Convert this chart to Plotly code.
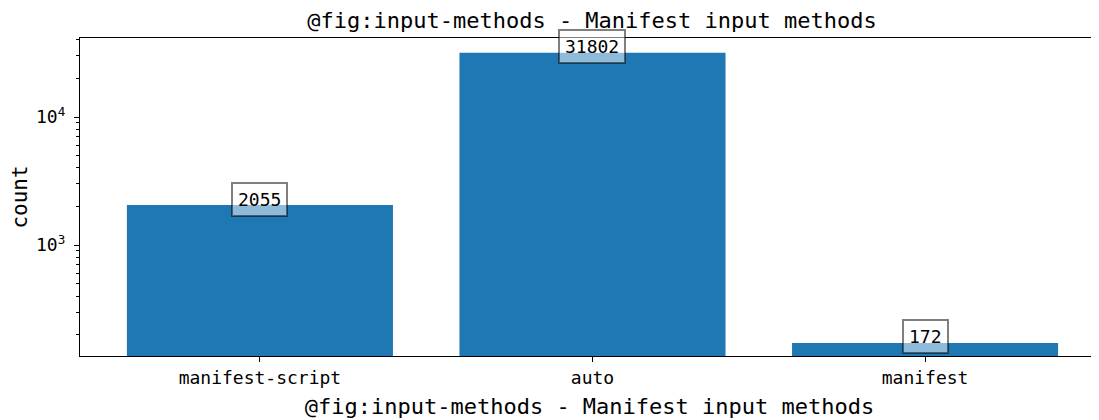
import plotly.graph_objects as go
import numpy as np

categories = ["manifest-script", "auto", "manifest"]
counts = [2055, 31802, 172]
title_text = "@fig:input-methods - Manifest input methods"

FONT = "DejaVu Sans Mono"
BLUE = "#1f77b4"
OFF = 8  # page body margin

W, H = 1099 - OFF, 420 - OFF

fig = go.Figure()
fig.add_trace(go.Bar(x=categories, y=counts, marker=dict(color=BLUE, line=dict(width=0)),
                     width=0.8, showlegend=False, hoverinfo="skip"))

for c, v in zip(categories, counts):
    fig.add_annotation(x=c, y=np.log10(v), text=str(v), showarrow=False,
                       yshift=6, font=dict(family=FONT, size=18, color="black"),
                       bgcolor="rgba(255,255,255,0.5)", bordercolor="rgba(0,0,0,0.5)",
                       borderwidth=2, borderpad=5)

minor_vals = [m * 10 ** e for e in (2, 3, 4) for m in range(2, 10) if 130 < m * 10 ** e < 50000]

fig.update_layout(
    width=W, height=H,
    margin=dict(l=80 - OFF, r=0, t=38 - OFF, b=64),
    paper_bgcolor="white", plot_bgcolor="white",
    font=dict(family=FONT, color="black"),
    title=dict(text=title_text, x=(592 - 80) / 1019, xref="paper",
               y=1 - (20 - OFF) / H, yref="container", yanchor="middle",
               xanchor="center", font=dict(family=FONT, size=22)),
    bargap=0.2,
)

fig.update_xaxes(
    range=[-0.541, 2.523], showline=True, linecolor="black", linewidth=1.2, mirror=True,
    ticks="outside", ticklen=5, tickcolor="black", showgrid=False,
    tickfont=dict(family=FONT, size=18),
    title=dict(text=title_text, font=dict(family=FONT, size=22), standoff=11),
)
fig.update_yaxes(
    type="log", range=[np.log10(136), np.log10(41400)],
    showline=True, linecolor="black", linewidth=1.2, mirror=False,
    ticks="outside", ticklen=5, tickcolor="black", showgrid=False, zeroline=False,
    tickvals=[1000, 10000], ticktext=["10<sup>3</sup>", "10<sup>4</sup>"],
    tickfont=dict(family=FONT, size=18), ticklabelstandoff=5,
    minor=dict(tickvals=minor_vals, ticks="outside", ticklen=3, tickcolor="black", showgrid=False),
    title=dict(text="count", font=dict(family=FONT, size=21), standoff=10),
)

fig.write_html("out.html")
